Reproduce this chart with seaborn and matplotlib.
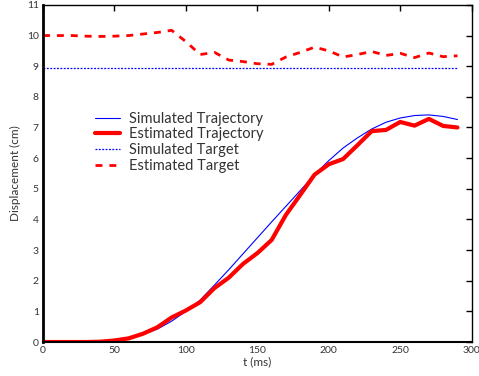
import matplotlib
matplotlib.use("Agg")
import matplotlib.pyplot as plt
import seaborn as sns
import pandas as pd
import numpy as np

t = list(range(0, 300, 10))
sim_traj = [0, 0, 0, 0, 0.01, 0.05, 0.12, 0.25, 0.42, 0.68, 1.0, 1.37, 1.86, 2.36, 2.88,
            3.4, 3.92, 4.43, 4.94, 5.46, 5.92, 6.33, 6.66, 6.95, 7.17, 7.31, 7.39, 7.41, 7.36, 7.26]
est_traj = [0, 0, 0, 0, 0.01, 0.05, 0.12, 0.27, 0.48, 0.8, 1.03, 1.3, 1.76, 2.1, 2.55,
            2.9, 3.33, 4.15, 4.8, 5.46, 5.8, 5.97, 6.42, 6.88, 6.92, 7.18, 7.06, 7.28, 7.05, 7.0]
sim_target = [8.93] * 30
est_target = [10.0, 10.0, 10.0, 9.98, 9.97, 9.98, 10.0, 10.05, 10.1, 10.17, 9.8, 9.38, 9.45, 9.2, 9.15,
              9.08, 9.06, 9.3, 9.45, 9.62, 9.5, 9.3, 9.38, 9.48, 9.35, 9.42, 9.28, 9.43, 9.31, 9.34]

sns.set_style("white")
plt.rcParams['font.family'] = ['Lato', 'DejaVu Sans']

fig = plt.figure(figsize=(4.79, 3.76), dpi=100)
ax = fig.add_axes([0.0898, 0.0904, 0.895, 0.8966])

sns.lineplot(x=t, y=sim_traj, ax=ax, color='#0000ff', lw=0.8, label='Simulated Trajectory')
sns.lineplot(x=t, y=est_traj, ax=ax, color='#ff0000', lw=3.0, label='Estimated Trajectory')
sns.lineplot(x=t, y=sim_target, ax=ax, color='#0000ff', lw=0.9, ls=(0, (1.5, 1.2)), label='Simulated Target')
sns.lineplot(x=t, y=est_target, ax=ax, color='#ff0000', lw=2.0, ls=(0, (2.5, 2.5)), label='Estimated Target')

ax.set_xlim(0, 300)
ax.set_ylim(0, 11)
ax.set_xticks([0, 50, 100, 150, 200, 250, 300])
ax.set_yticks(range(0, 12))
ax.tick_params(direction='in', length=4, width=1, top=True, right=True,
               labelsize=7.5, labelcolor='#333333', color='black', pad=3)
for s in ax.spines.values():
    s.set_color('black')
    s.set_linewidth(1.0)
ax.spines['left'].set_linewidth(2.0)
ax.spines['bottom'].set_linewidth(1.5)
ax.set_xlabel('t (ms)', fontsize=8.5, color='#333333', labelpad=1)
ax.set_ylabel('Displacement (cm)', fontsize=8.5, color='#333333', labelpad=4)

leg = ax.legend(loc='upper left', bbox_to_anchor=(0.09, 0.722), frameon=False,
                fontsize=10.5, handlelength=1.75, handletextpad=0.6, labelspacing=0.12)
for txt in leg.get_texts():
    txt.set_color('#333333')

fig.savefig('out.png', dpi=100)
